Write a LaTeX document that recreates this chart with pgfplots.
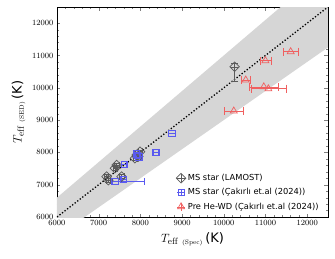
\documentclass[border=0pt]{standalone}
\usepackage{fontspec}
\usepackage{pgfplots}
\usepackage{pgfplotstable}
\pgfplotsset{compat=1.18}
\newfontfamily\dejavu{DejaVu Sans}
\definecolor{msgray}{HTML}{5A5A5A}
\definecolor{msblue}{HTML}{5A5AF0}
\definecolor{msred}{HTML}{F06060}
\definecolor{band}{HTML}{D6D6D6}

\pgfplotstableread{
x y exp exm eyp eym
7190 7250 50 50 60 60
7230 7140 50 50 60 60
7390 7510 50 50 60 60
7430 7610 50 50 60 60
7550 7250 50 50 60 60
7870 7820 50 50 60 60
7910 7920 50 50 60 60
7950 7870 50 50 60 60
7990 8020 50 50 60 60
10260 10650 0 0 120 460
}\lamost

\pgfplotstableread{
x y exp exm eyp eym
7390 7100 700 60 0 0
7590 7170 60 60 0 0
7610 7630 60 60 0 0
7900 7950 60 60 0 0
7930 7900 60 60 0 0
7960 7860 60 60 0 0
8370 8000 60 60 0 0
8750 8590 80 80 0 0
}\msblue

\pgfplotstableread{
x y exp exm eyp eym
11605 11118 180 180 0 0
10999 10839 130 130 0 0
10527 10241 110 110 0 0
10960 10030 350 350 0 0
11070 9970 420 420 0 0
10240 9282 220 220 0 0
}\hewd

\pgfplotsset{
  errlegend/.style={legend image code/.code={
    \draw[##1,mark=none,line width=0.6pt] (0.16cm,0cm)--(0.44cm,0cm) (0.3cm,-0.14cm)--(0.3cm,0.14cm);
    \draw[mark repeat=2,mark phase=2,##1] plot coordinates {(0cm,0cm) (0.3cm,0cm) (0.6cm,0cm)};
  }}
}

\begin{document}
\begin{tikzpicture}
\useasboundingbox (-57pt,-41pt) rectangle (278pt,217pt);
\begin{axis}[
  at={(0pt,0pt)}, anchor=south west,
  scale only axis, width=271pt, height=210pt,
  xmin=6000, xmax=12500, ymin=6000, ymax=12500,
  xtick={6000,7000,...,12000}, ytick={6000,7000,...,12000},
  minor tick num=4,
  tick align=inside, xtick pos=both, ytick pos=both,
  major tick length=3.5pt, minor tick length=2pt,
  scaled ticks=false,
  /pgf/number format/set thousands separator={},
  tick label style={font=\fontsize{8.5}{10}\selectfont},
  xlabel={$T_{\mathrm{eff}\ \scriptscriptstyle(\mathrm{Spec})}$\,{\dejavu(K)}},
  ylabel={$T_{\mathrm{eff}\ \scriptscriptstyle(\mathrm{SED})}$\,{\dejavu(K)}},
  label style={font=\fontsize{13}{15}\selectfont},
  legend style={draw=none, fill=none, at={(0.985,0.01)}, anchor=south east,
    font=\dejavu\fontsize{8.3}{9.5}\selectfont, row sep=2.5pt},
  legend cell align=left,
  error bars/error bar style={line width=0.6pt},
]
\addplot[fill=band, draw=none, forget plot] coordinates {(6000,5400) (12500,11250) (12500,13750) (6000,6600)} -- cycle;
\addplot[black, line width=1.3pt, dash pattern=on 1.3pt off 1.9pt, forget plot] coordinates {(6000,6000) (12500,12500)};

\addplot[errlegend, only marks, msgray, mark=square, mark size=3.4pt,
  mark options={rotate=45, line width=0.7pt, fill=white, fill opacity=0.4},
  error bars/.cd, x dir=both, y dir=both, x explicit, y explicit]
  table[x=x, y=y, x error plus=exp, x error minus=exm, y error plus=eyp, y error minus=eym] {\lamost};
\addlegendentry{MS star (LAMOST)}

\addplot[errlegend, only marks, msblue, mark=square, mark size=3.2pt,
  mark options={line width=0.7pt, fill=msblue!25, fill opacity=0.6},
  error bars/.cd, x dir=both, x explicit]
  table[x=x, y=y, x error plus=exp, x error minus=exm] {\msblue};
\addlegendentry{MS star (Çakırlı et.al (2024))}

\addplot[errlegend, only marks, msred, mark=triangle, mark size=4pt,
  mark options={line width=0.7pt, fill=msred!25, fill opacity=0.6},
  error bars/.cd, x dir=both, x explicit]
  table[x=x, y=y, x error plus=exp, x error minus=exm] {\hewd};
\addlegendentry{Pre He-WD (Çakırlı et.al (2024))}
\end{axis}
\end{tikzpicture}
\end{document}
